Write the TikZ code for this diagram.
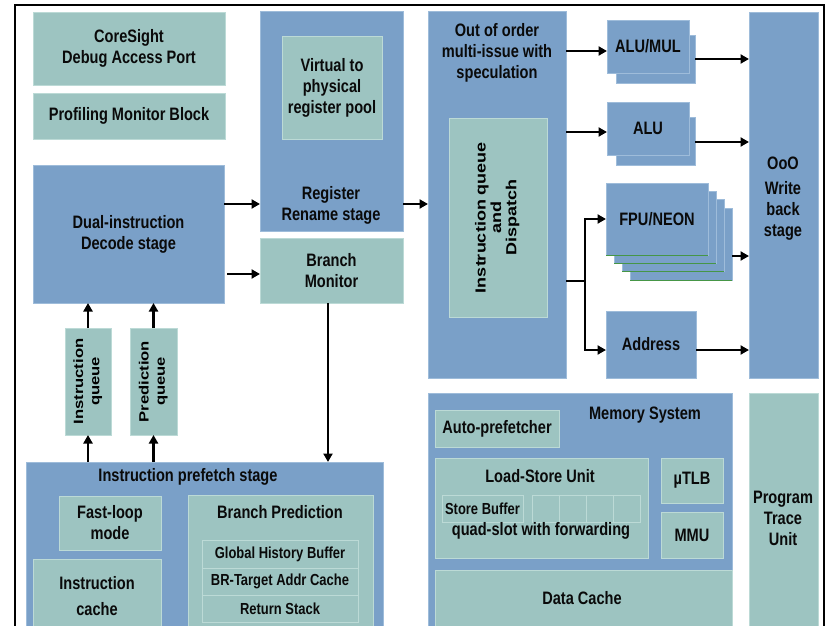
\documentclass[tikz,border=0pt]{standalone}
\usepackage{fontspec}
\usepackage{graphicx}
\setmainfont{Liberation Sans}[FakeStretch=0.81]
\newfontfamily\plainsans{Liberation Sans}
\usetikzlibrary{arrows.meta,calc}

\definecolor{unitblue}{RGB}{122,160,200}
\definecolor{unitteal}{RGB}{157,196,193}
\definecolor{edgeblue}{RGB}{158,188,218}
\definecolor{edgeteal}{RGB}{188,218,214}
\definecolor{stackgreen}{RGB}{70,150,70}
\definecolor{inkdark}{RGB}{10,10,10}

% rotated labels: glyphs squeezed across the baseline
\newcommand\vlabel[3]{\scalebox{1}[0.81]{\plainsans\bfseries\fontsize{#1}{#2}\selectfont
  \begin{tabular}{@{}c@{}}#3\end{tabular}}}

\begin{document}
\begin{tikzpicture}[x=1pt,y=-1pt,
  box/.style={anchor=north west, inner sep=0pt, outer sep=0pt, line width=0.8pt,
    align=center, text=inkdark, font=\bfseries\fontsize{18}{21}\selectfont},
  blk/.style={box, fill=unitblue, draw=edgeblue},
  tl/.style={box, fill=unitteal, draw=edgeteal},
  wh/.style 2 args={minimum width=#1, minimum height=#2},
  lbl/.style={align=center, text=inkdark, inner sep=0pt, font=\bfseries\fontsize{18}{21}\selectfont},
  small/.style={font=\bfseries\fontsize{16}{19}\selectfont},
  arr/.style={-{Triangle[length=8.5pt,width=9pt]}, line width=2.8pt},
  wire/.style={line width=2.8pt}]

\useasboundingbox (0,0) rectangle (827,626);

% outer frame
\draw[line width=2pt] (15,660) -- (15,5) -- (824,5) -- (824,660);

% ---- debug and profiling ----
\node[tl, wh={192}{73}] (coresight) at (33,12) {CoreSight\\Debug Access Port};
\node[tl, wh={192}{46}] (profmon) at (33,93) {Profiling Monitor Block};

% ---- decode ----
\node[blk, wh={191}{138}] (decode) at (33,165) {Dual-instruction\\Decode stage};

% ---- register rename ----
\node[blk, wh={143}{220}] (rename) at (260,11) {};
\node[tl, wh={100}{103}] (v2p) at (282,36) {Virtual to\\physical\\register pool};
\node[lbl] (renamelbl) at (331,205) {Register\\Rename stage};
\node[tl, wh={143}{65}] (brmon) at (260,238) {Branch\\Monitor};

% ---- issue ----
\node[blk, wh={138}{367}] (ooo) at (428,11) {};
\node[lbl] (ooolbl) at (497,53) {Out of order\\multi-issue with\\speculation};
\node[tl, wh={98}{199}] (dispatch) at (449,118) {};
\node[rotate=90, inner sep=0pt] (dispatchlbl) at (dispatch.center)
  {\vlabel{18}{19}{Instruction queue\\and\\Dispatch}};

% ---- execution units ----
\node[blk, wh={79}{48}] (alumulback) at (616,35) {};
\node[blk, wh={82}{53}] (alumul) at (607,20) {ALU/MUL};
\node[blk, wh={79}{48}] (aluback) at (616,117) {};
\node[blk, wh={82}{53}] (alu) at (607,102) {ALU};

\node[blk, wh={102}{72}] (fpu4) at (630,208) {};
\node[blk, wh={102}{72}] (fpu3) at (622,199) {};
\node[blk, wh={102}{72}] (fpu2) at (614,191) {};
\node[blk, wh={102}{72}] (fpu1) at (606,183) {FPU/NEON};
\foreach \f in {fpu4,fpu3,fpu2,fpu1}
  \draw[stackgreen, line width=1pt] (\f.south west) -- (\f.south east);

\node[blk, wh={90}{67}] (addr) at (606,311) {Address};

% ---- write back ----
\node[blk, wh={69}{366}] (wb) at (749,12) {};
\node[lbl] (wblbl) at (783,199) {OoO\\[4pt]Write\\back\\stage};

% ---- memory system ----
\node[blk, wh={304}{250}] (mem) at (428,393) {};
\node[lbl] (memlbl) at (645,415) {Memory System};
\node[tl, wh={124}{37}] (autopf) at (435,410) {Auto-prefetcher};
\node[tl, wh={213}{100}] (lsu) at (435,458) {};
\node[lbl] (lsulbl) at (540,476) {Load-Store Unit};
\node[tl, wh={81}{27}, small] (sb0) at (442,495) {Store Buffer};
\node[tl, wh={27}{27}] (sb1) at (532,495) {};
\node[tl, wh={27}{27}] (sb2) at (559,495) {};
\node[tl, wh={27}{27}] (sb3) at (586,495) {};
\node[tl, wh={27}{27}] (sb4) at (613,495) {};
\node[lbl] (quadlbl) at (541,531) {quad-slot with forwarding};
\node[tl, wh={62}{45}] (utlb) at (661,458) {µTLB};
\node[tl, wh={62}{46}] (mmu) at (661,512) {MMU};
\node[tl, wh={297}{70}] (dcache) at (435,570) {};
\node[lbl] (dcachelbl) at (582,598) {Data Cache};

% ---- trace ----
\node[tl, wh={69}{250}] (ptu) at (749,393) {};
\node[lbl] (ptulbl) at (783,518) {Program\\Trace\\Unit};

% ---- fetch queues ----
\node[tl, wh={46}{107}] (iq) at (65,328) {};
\node[rotate=90, inner sep=0pt] (iqlbl) at (iq.center) {\vlabel{16.6}{20}{Instruction\\queue}};
\node[tl, wh={47}{107}] (pq) at (130,328) {};
\node[rotate=90, inner sep=0pt] (pqlbl) at (pq.center) {\vlabel{16.6}{20}{Prediction\\queue}};

% ---- prefetch ----
\node[blk, wh={357}{180}] (prefetch) at (26,462) {};
\node[lbl] (prefetchlbl) at (188,477) {Instruction prefetch stage};
\node[tl, wh={102}{54}] (fastloop) at (59,496) {Fast-loop\\mode};
\node[tl, wh={128}{85}] (icache) at (33,559) {};
\node[lbl] (icachelbl) at (97,596) {Instruction\\[5pt]cache};
\node[tl, wh={185}{150}] (bp) at (188,495) {};
\node[lbl] (bplbl) at (280,512) {Branch Prediction};
\node[tl, wh={156}{28}, small] (ghb) at (202,540) {Global History Buffer};
\node[tl, wh={156}{27}, small] (btac) at (202,568) {BR-Target Addr Cache};
\node[tl, wh={156}{27}, small] (rstack) at (202,595) {Return Stack};

% ---- connectors ----
\draw[arr] (decode.east |- 0,204) -- (rename.west |- 0,204);
\draw[arr] ($(decode.east |- 0,274)+(3,0)$) -- (brmon.west |- 0,274);
\draw[arr] (rename.east |- 0,204) -- (ooo.west |- 0,204);
\draw[arr] (brmon.south -| 328,0) -- (prefetch.north -| 328,0);
\draw[arr] (iq.north) -- (decode.south -| iq.north);
\draw[arr] (pq.north) -- (decode.south -| pq.north);
\draw[arr] (prefetch.north -| iq.south) -- (iq.south);
\draw[arr] (prefetch.north -| pq.south) -- (pq.south);

\draw[arr] (ooo.east |- 0,51) -- (alumul.west |- 0,51);
\draw[arr] (ooo.east |- 0,132) -- (alu.west |- 0,132);
\coordinate (split) at (585,281);
\draw[wire] (ooo.east |- split) -- (split);
\draw[arr] ($(split)+(0,1.4)$) |- (fpu1.west);
\draw[arr] ($(split)-(0,1.4)$) |- (addr.west |- 0,350);

\draw[arr] (alumulback.east |- 0,59) -- (wb.west |- 0,59);
\draw[arr] (aluback.east |- 0,142) -- (wb.west |- 0,142);
\draw[arr] (fpu4.east |- 0,256) -- (wb.west |- 0,256);
\draw[arr] (addr.east |- 0,350) -- (wb.west |- 0,350);

\end{tikzpicture}
\end{document}
